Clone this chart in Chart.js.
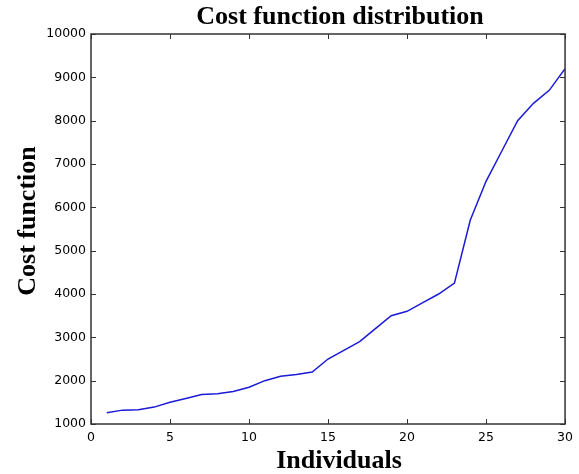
<!DOCTYPE html>
<html>
<head>
<meta charset="utf-8">
<script src="https://cdn.jsdelivr.net/npm/chart.js@4.4.1/dist/chart.umd.min.js"></script>
<style>
  html, body { margin: 0; padding: 0; background: #fff; }
  #wrap { width: 579px; height: 474px; position: relative; }
</style>
</head>
<body>
<div id="wrap"><canvas id="chart-cost"></canvas></div>
<script>
// values
const individuals = [1, 2, 3, 4, 5, 6, 7, 8, 9, 10, 11, 12, 13, 14, 15,
    16, 17, 18, 19, 20, 21, 22, 23, 24, 25, 26, 27, 28, 29, 30];
const costValues = [1260, 1320, 1330, 1390, 1500, 1590, 1680, 1700, 1750, 1850,
    2000, 2100, 2140, 2200, 2500, 2700, 2900, 3200, 3500, 3600,
    3800, 4000, 4250, 5700, 6600, 7300, 8000, 8400, 8700, 9200];
const xTicks = [0, 5, 10, 15, 20, 25, 30];
const yTicks = [1000, 2000, 3000, 4000, 5000, 6000, 7000, 8000, 9000, 10000];

const titleText = "Cost function distribution";
const xLabel = "Individuals";
const yLabel = "Cost function";

const serif = "'Liberation Serif', 'DejaVu Serif', serif";

// box round the plot + inward ticks on all sides, plus the texts
const frame = {
    id: 'frame',
    afterDraw(chart) {
        const ctx = chart.ctx;
        const a = chart.chartArea;
        const xs = chart.scales.x, ys = chart.scales.y;
        ctx.save();
        ctx.strokeStyle = '#333';
        ctx.lineWidth = 1;
        ctx.beginPath();
        xTicks.forEach(v => {
            const p = Math.round(xs.getPixelForValue(v)) + 0.5;
            ctx.moveTo(p, a.bottom); ctx.lineTo(p, a.bottom - 5);
            ctx.moveTo(p, a.top); ctx.lineTo(p, a.top + 5);
        });
        yTicks.forEach(v => {
            const p = Math.round(ys.getPixelForValue(v)) + 0.5;
            ctx.moveTo(a.left, p); ctx.lineTo(a.left + 5, p);
            ctx.moveTo(a.right, p); ctx.lineTo(a.right - 5, p);
        });
        ctx.stroke();
        ctx.lineWidth = 1.5;
        ctx.strokeRect(a.left, a.top, a.right - a.left, a.bottom - a.top);

        ctx.fillStyle = '#000';
        ctx.textAlign = 'center';
        ctx.textBaseline = 'middle';
        ctx.font = 'bold 26px ' + serif;
        ctx.fillText(titleText, 340, 17);
        ctx.fillText(xLabel, 339, 461);
        ctx.translate(28, 221);
        ctx.rotate(-Math.PI / 2);
        ctx.fillText(yLabel, 0, 0);
        ctx.restore();
    }
};

let ctxCost = document.getElementById("chart-cost").getContext("2d");
let costChart = new Chart(ctxCost, {
    type: 'line',
    data: {
        datasets: [{
            label: 'Cost',
            data: individuals.map((v, i) => ({ x: v, y: costValues[i] })),
            borderColor: '#1a1ad8',
            borderWidth: 1.5,
            pointRadius: 0,
            tension: 0,
            fill: false
        }]
    },
    options: {
        responsive: true,
        maintainAspectRatio: false,
        animation: false,
        layout: { padding: { top: 34, right: 13, left: 0, bottom: 0 } },
        plugins: {
            legend: { display: false },
            title: { display: false },
            tooltip: { enabled: false }
        },
        scales: {
            x: {
                type: 'linear',
                min: 0,
                max: 30,
                afterFit(scale) { scale.height = 50; },
                afterBuildTicks(scale) { scale.ticks = xTicks.map(v => ({ value: v })); },
                grid: { display: false, drawTicks: false },
                border: { display: false },
                ticks: {
                    padding: 6,
                    color: '#000',
                    font: { family: "'DejaVu Sans', sans-serif", size: 12.5 },
                    maxRotation: 0
                }
            },
            y: {
                type: 'linear',
                min: 1000,
                max: 10000,
                afterFit(scale) { scale.width = 91; },
                afterBuildTicks(scale) { scale.ticks = yTicks.map(v => ({ value: v })); },
                grid: { display: false, drawTicks: false },
                border: { display: false },
                ticks: {
                    padding: 5,
                    color: '#000',
                    font: { family: "'DejaVu Sans', sans-serif", size: 12.5 },
                    callback: v => String(v)
                }
            }
        }
    },
    plugins: [frame]
});
</script>
</body>
</html>
